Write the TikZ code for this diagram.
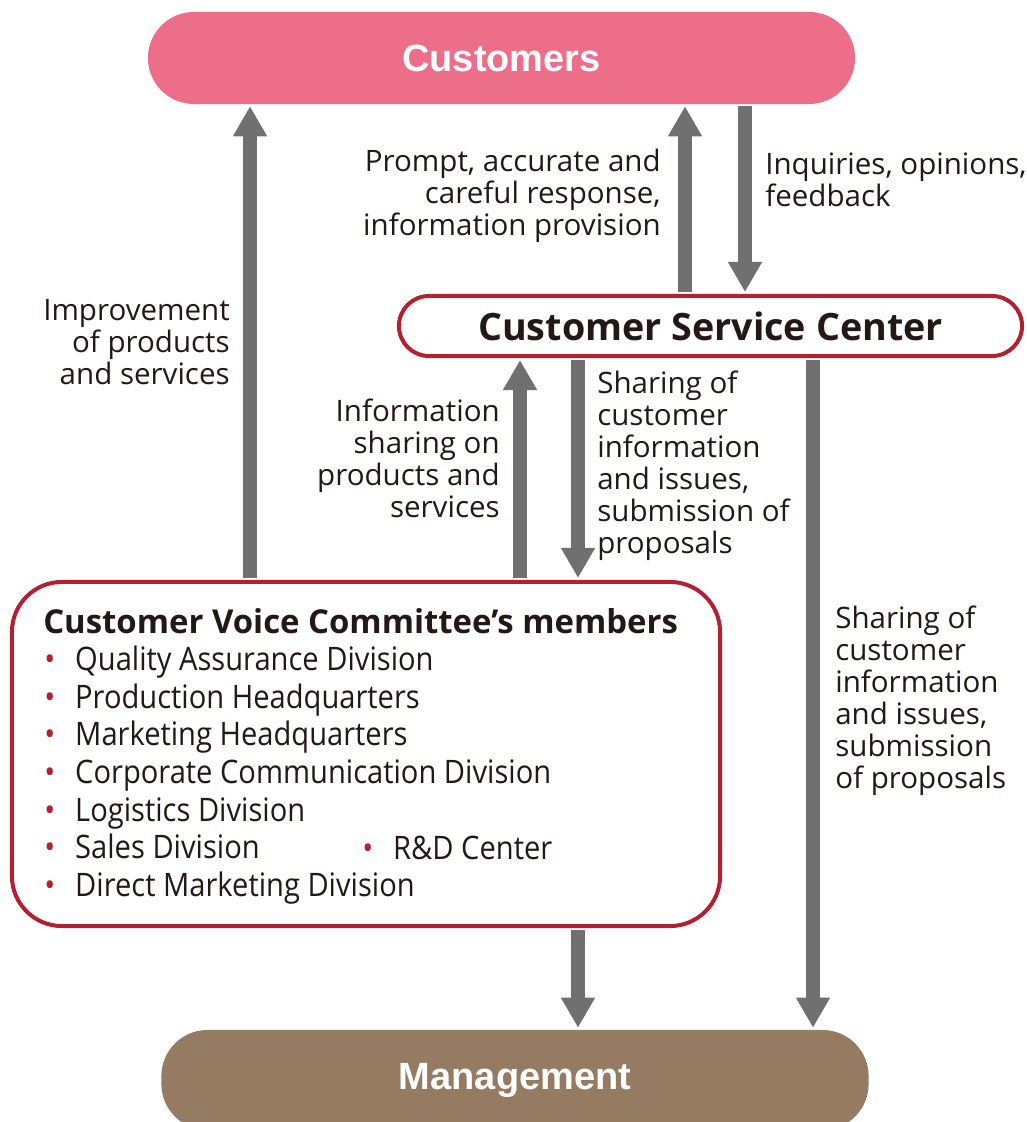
\documentclass[tikz,border=0pt]{standalone}
\usepackage{fontspec}
\setmainfont{Open Sans}
\newfontfamily\headfont{Liberation Sans}
\newfontfamily\listfont[FakeStretch=0.9]{Open Sans}
\usepackage{tikz}
\usetikzlibrary{arrows.meta,shapes.misc}
\definecolor{custpink}{RGB}{236,110,136}
\definecolor{mgmtbrown}{RGB}{149,123,98}
\definecolor{boxred}{RGB}{181,32,48}
\definecolor{flowgray}{RGB}{112,112,112}
\definecolor{inkdark}{RGB}{35,24,21}
\newcommand{\bul}{\makebox[22pt][l]{\textcolor{boxred}{•}}}

\begin{document}
\begin{tikzpicture}[x=0.025cm,y=-0.025cm]
                \tikzstyle{pill} = [rectangle, rounded corners=1.15cm, minimum width=17.675cm, minimum height=2.3cm, text=white, font=\headfont\bfseries\fontsize{27}{30}\selectfont]
                \tikzstyle{redbox} = [rectangle, draw=boxred, line width=0.1cm, fill=white, text=inkdark]
                \tikzstyle{flow} = [draw=flowgray, line width=0.35cm, -{Triangle[width=0.8cm,length=0.75cm]}, shorten <=0.05cm, shorten >=0.05cm]
                \tikzstyle{note} = [text=inkdark, font=\fontsize{21}{22.8}\selectfont, inner sep=0pt]
                \tikzstyle{member} = [text=inkdark, font=\listfont\fontsize{23}{26.8}\selectfont, inner sep=0pt]
                \useasboundingbox (0,0) rectangle (1026,1122);

                \node (customers) [pill, fill=custpink] at (501.5,58) {Customers};
                \node (service) [redbox, rounded corners=0.75cm, minimum width=15.575cm, minimum height=1.5cm, font=\bfseries\fontsize{26.8}{30}\selectfont] at (710.5,326) {Customer Service Center};
                \node (committee) [redbox, rounded corners=1.25cm, minimum width=17.7cm, minimum height=8.6cm] at (366,754) {};
                \node (management) [pill, fill=mgmtbrown, minimum height=2.5cm] at (515,1080) {Management};

                \node (members) [text=inkdark, anchor=west, inner sep=0pt, font=\bfseries\fontsize{23.4}{26}\selectfont] at (43,621) {Customer Voice Committee’s members};
                \node (divisions) [member, anchor=west, align=left] at (44,775) {\bul Quality Assurance Division\\
                \bul Production Headquarters\\
                \bul Marketing Headquarters\\
                \bul Corporate Communication Division\\
                \bul Logistics Division\\
                \bul Sales Division\\
                \bul Direct Marketing Division};
                \node (rnd) [member, anchor=west] at (362,848) {\bul R\&D Center};

                \node (improve) [note, anchor=east, align=right] at (230,342) {Improvement\\of products\\and services};
                \node (response) [note, anchor=east, align=right] at (661,196) {Prompt, accurate and\\careful response,\\information provision};
                \node (inquiry) [note, anchor=west, align=left] at (765,180) {Inquiries, opinions,\\feedback};
                \node (infoshare) [note, anchor=east, align=right] at (500,458) {Information\\sharing on\\products and\\services};
                \node (proposal1) [note, anchor=west, align=left] at (597,466) {Sharing of\\customer\\information\\and issues,\\submission of\\proposals};
                \node (proposal2) [note, anchor=west, align=left] at (835,701) {Sharing of\\customer\\information\\and issues,\\submission\\of proposals};

                \draw [flow] (committee.north -| 250,0) -- (customers.south -| 250,0);
                \draw [flow] (service.north -| 685,0) -- (customers.south -| 685,0);
                \draw [flow] (customers.south -| 745,0) -- (service.north -| 745,0);
                \draw [flow] (committee.north -| 520,0) -- (service.south -| 520,0);
                \draw [flow] (service.south -| 578,0) -- (committee.north -| 578,0);
                \draw [flow] (service.south -| 813,0) -- (management.north -| 813,0);
                \draw [flow] (committee.south -| 578,0) -- (management.north -| 578,0);

            \end{tikzpicture}
\end{document}
